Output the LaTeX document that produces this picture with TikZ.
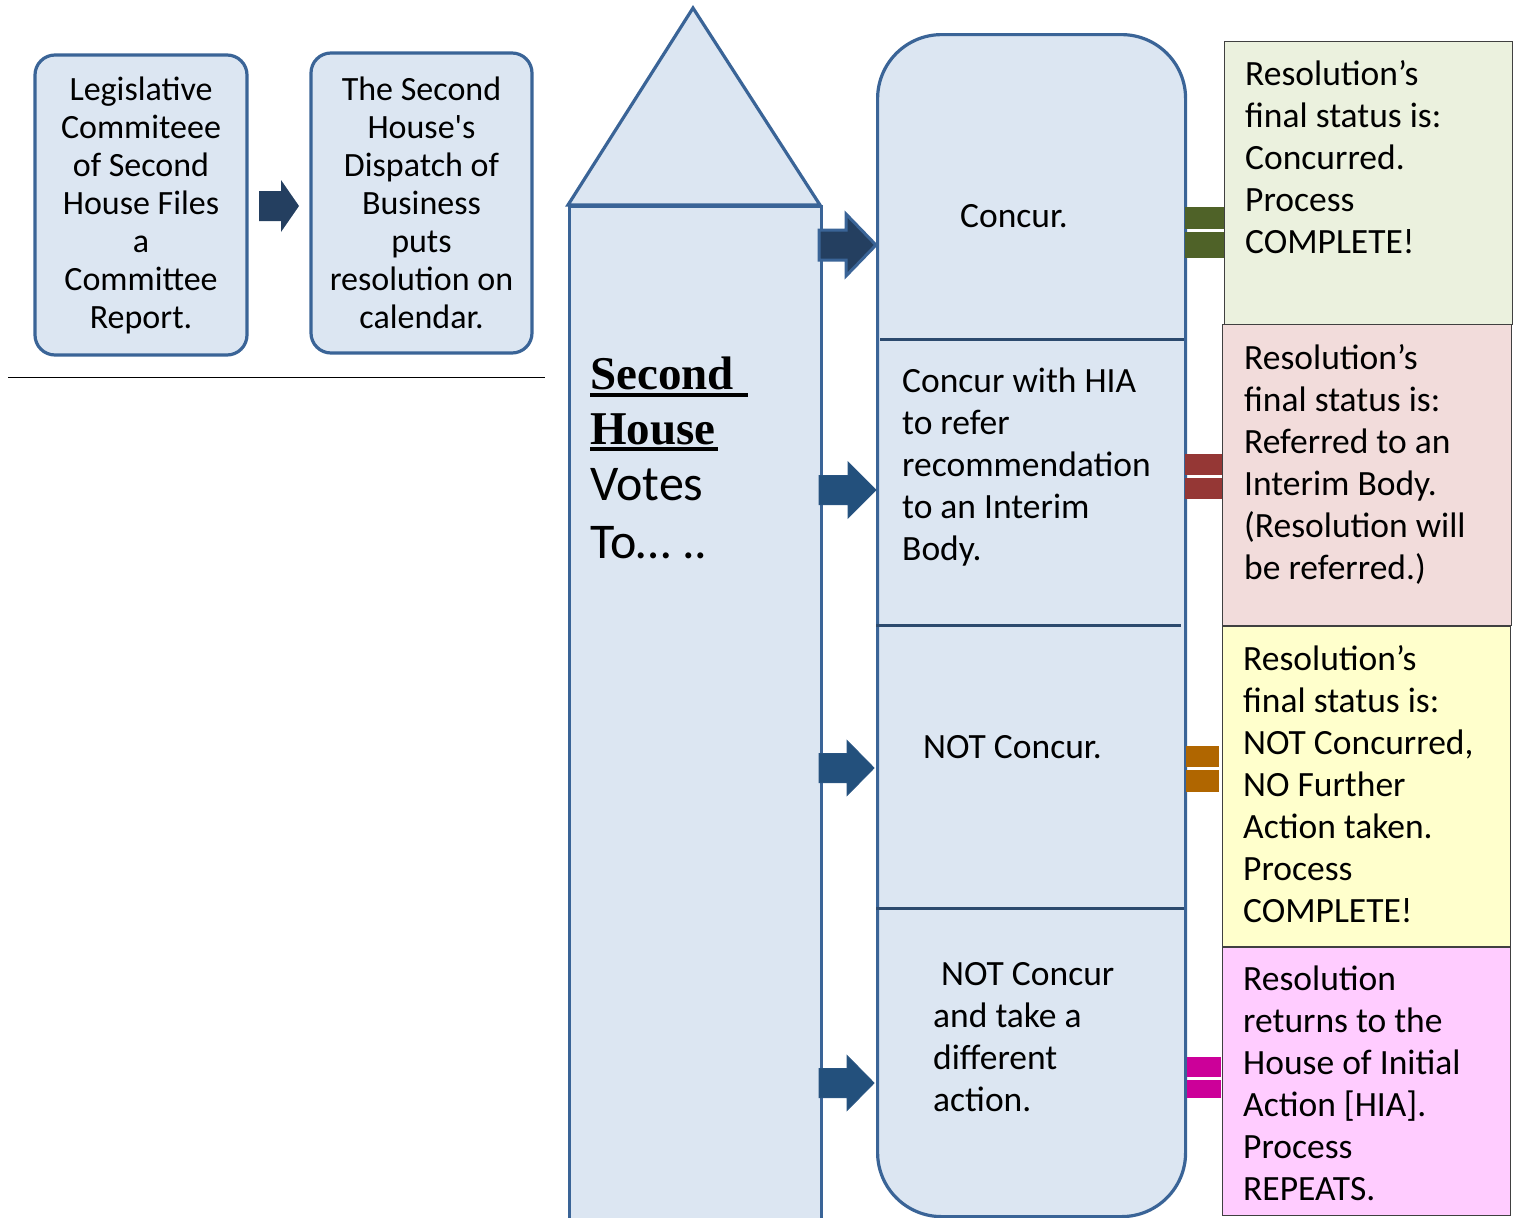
\documentclass[tikz,border=0pt]{standalone}
\usepackage{fontspec}
\setmainfont{Carlito}
\newfontfamily\titleserif{Liberation Serif}
\usetikzlibrary{calc}

\definecolor{paleblue}{HTML}{DCE6F2}
\definecolor{edgeblue}{HTML}{3A6497}
\definecolor{divblue}{HTML}{2C4A6E}
\definecolor{navyarrow}{HTML}{243F60}
\definecolor{midarrow}{HTML}{23507C}
\definecolor{greenfill}{HTML}{EBF1DE}
\definecolor{redfill}{HTML}{F2DCDB}
\definecolor{yellowfill}{HTML}{FFFFCC}
\definecolor{pinkfill}{HTML}{FFCCFF}
\definecolor{greenbar}{HTML}{4F6228}
\definecolor{redbar}{HTML}{953735}
\definecolor{orangebar}{HTML}{B06600}
\definecolor{pinkbar}{HTML}{CC0099}

% block arrow: start x, neck x, tip x, centre y, body half height, head half height
\newcommand\blockarrow[7][]{%
  \path[#1] (#2,#5-#6) -- (#3,#5-#6) -- (#3,#5-#7) -- (#4,#5)
    -- (#3,#5+#7) -- (#3,#5+#6) -- (#2,#5+#6) -- cycle;}
% pair of bars forming an "=" link between two boxes
\newcommand\equalslink[6]{%
  \fill[#1] (#2,#4) rectangle (#3,#5);
  \fill[#1] (#2,#5+3) rectangle (#3,#6);}

\begin{document}
\begin{tikzpicture}[x=1pt,y=-1pt,
  stepcard/.style={draw=edgeblue, fill=paleblue, line width=3.2pt,
    rounded corners=20pt, align=center, inner sep=0pt,
    font=\fontsize{34}{38}\selectfont},
  statusbox/.style={draw=black!75, line width=1.4pt, inner sep=0pt},
  statustext/.style={anchor=north west, align=left, inner sep=0pt,
    font=\fontsize{35.5}{42}\selectfont},
  choicetext/.style={anchor=north west, align=left, inner sep=0pt,
    font=\fontsize{35.5}{42}\selectfont},
  shapeedge/.style={draw=edgeblue, fill=paleblue, line width=3.2pt},
  divider/.style={draw=divblue, line width=3pt},
  firstarrow/.style={fill=navyarrow, draw=edgeblue, line width=3pt},
  votearrow/.style={fill=midarrow, draw=midarrow!80!edgeblue, line width=1pt},
  smallarrow/.style={fill=navyarrow},
]
\useasboundingbox (0,0) rectangle (1516,1218);
\clip (0,0) rectangle (1516,1218);

% ---- opening steps ----
\node[stepcard, minimum width=212pt, minimum height=300pt] (file) at (141,205)
  {Legislative\\Commiteee\\of Second\\House Files\\a\\Committee\\Report.};
\node[stepcard, minimum width=221pt, minimum height=300pt] (dispatch) at (421.5,203)
  {The Second\\House\textquotesingle s\\Dispatch of\\Business\\puts\\resolution on\\calendar.};
\blockarrow[smallarrow]{259}{281}{299}{206}{15}{26}
\coordinate (ruleL) at (8,377);
\coordinate (ruleR) at (545,377);
\draw[line width=1pt] (ruleL) -- (ruleR);

% ---- the second house ----
\path[shapeedge] (568,205) -- (693,8) -- (820,205) -- cycle;
\node[shapeedge, minimum width=252pt, minimum height=1030pt, anchor=north west,
  inner sep=0pt] (house) at (568,205) {};
\node[anchor=base west, inner sep=0pt, font=\titleserif\bfseries\fontsize{47}{55}\selectfont]
  (hsecond) at (590,389) {Second};
\node[anchor=base west, inner sep=0pt, font=\titleserif\bfseries\fontsize{47}{55}\selectfont]
  (hhouse) at (590,444) {House};
\draw[line width=3.6pt] (590,395) -- (748,395);
\draw[line width=3.6pt] (590,449) -- (718,449);
\node[anchor=base west, inner sep=0pt, font=\fontsize{50}{58}\selectfont]
  (hvotes) at (590,500) {Votes};
\node[anchor=base west, inner sep=0pt, font=\fontsize{50}{58}\selectfont]
  (hto) at (590,558) {To… ..};

% ---- the choices ----
\node[shapeedge, rounded corners=64pt, minimum width=308pt, minimum height=1182pt,
  anchor=north west, inner sep=0pt] (choices) at (876,33) {};
\draw[divider] (880,339) -- (1184,339);
\draw[divider] (876,625) -- (1181,625);
\draw[divider] (876,908) -- (1184,908);

\node[anchor=base, inner sep=0pt, font=\fontsize{35.5}{42}\selectfont] (concur) at (1014,227) {Concur.};
\node[choicetext] (refer) at (902,368)
  {Concur with HIA\\to refer\\recommendation\\to an Interim\\Body.};
\node[anchor=base west, inner sep=0pt, font=\fontsize{35.5}{42}\selectfont] (notconcur) at (923,758) {NOT Concur.};
\node[choicetext] (other) at (933,962)
  {\hspace*{8pt}NOT Concur\\and take a\\different\\action.};

\blockarrow[firstarrow]{819}{846}{876}{245}{15}{31}
\blockarrow[votearrow]{819}{848}{876}{490}{14.5}{28}
\blockarrow[votearrow]{819}{847}{874}{768}{14.5}{27.5}
\blockarrow[votearrow]{819}{847}{874}{1083}{14.5}{27.5}

% ---- final status ----
\node[statusbox, fill=greenfill, minimum width=288pt, minimum height=283pt, anchor=north west]
  (sgreen) at (1224,41) {};
\node[statusbox, fill=redfill, minimum width=289pt, minimum height=301pt, anchor=north west]
  (sred) at (1222,324) {};
\node[statusbox, fill=yellowfill, minimum width=288pt, minimum height=320pt, anchor=north west]
  (syellow) at (1222,626) {};
\node[statusbox, fill=pinkfill, minimum width=288pt, minimum height=268pt, anchor=north west]
  (spink) at (1222,947) {};

\node[statustext] (tgreen) at (1245,60)
  {Resolution’s\\final status is:\\Concurred.\\Process\\COMPLETE!};
\node[statustext] (tred) at (1244,344)
  {Resolution’s\\final status is:\\Referred to an\\Interim Body.\\(Resolution will\\be referred.)};
\node[statustext] (tyellow) at (1243,645)
  {Resolution’s\\final status is:\\NOT Concurred,\\NO Further\\Action taken.\\Process\\COMPLETE!};
\node[statustext] (tpink) at (1243,966)
  {Resolution\\returns to the\\House of Initial\\Action [HIA].\\Process\\REPEATS.};

\equalslink{greenbar}{1185}{1224}{207}{229}{258}
\equalslink{redbar}{1185}{1222}{454}{475}{499}
\equalslink{orangebar}{1186}{1219}{746}{767}{792}
\equalslink{pinkbar}{1187}{1221}{1057}{1077}{1098}
\end{tikzpicture}
\end{document}
